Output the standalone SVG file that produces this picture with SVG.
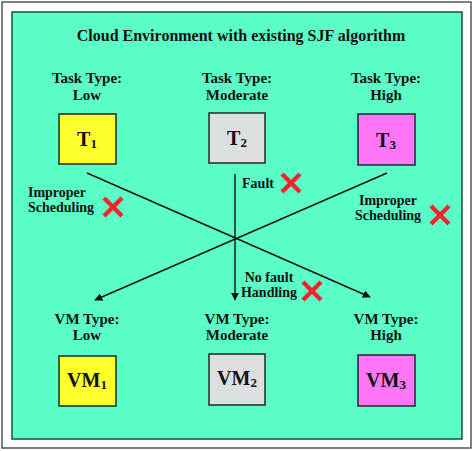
<svg xmlns="http://www.w3.org/2000/svg" width="474" height="451" viewBox="0 0 474 451">
<style>
text{font-family:"Liberation Serif","Times New Roman",serif;font-weight:bold;fill:#111;text-anchor:middle}
.lbl{font-size:14px}
.nl{font-size:15px}
.box{stroke:#1a2a2a;stroke-width:1.5}
.bt{font-size:20px}
.sub{font-size:13px}
.x{stroke:#f2242a;stroke-width:4.5;stroke-linecap:butt}
.conn{stroke:#111;stroke-width:1.4;fill:none}
</style>
<defs>
<marker id="ah" viewBox="0 0 10 10" refX="9" refY="5" markerWidth="8" markerHeight="8" markerUnits="userSpaceOnUse" orient="auto"><path d="M0,0 L10,5 L0,10 z" fill="#111"/></marker>
<g id="xm"><line class="x" x1="-9" y1="-9" x2="9" y2="9"/><line class="x" x1="9" y1="-9" x2="-9" y2="9"/></g>
</defs>
<rect x="2" y="2" width="469" height="446" fill="#fff" stroke="#555" stroke-width="1.5"/>
<rect x="12" y="12" width="450" height="427" fill="#5bfec7" stroke="#1f4a40" stroke-width="1.5"/>
<text x="241" y="41" style="font-size:16px">Cloud Environment with existing SJF algorithm</text>
<g id="t1"><text class="nl" x="87" y="83">Task Type:</text><text class="nl" x="87" y="100">Low</text><rect class="box" x="59" y="114" width="57" height="50" fill="#ffff2e"/><text class="bt" x="87" y="146">T<tspan class="sub" dy="2">1</tspan></text></g>
<g id="t2"><text class="nl" x="237" y="83">Task Type:</text><text class="nl" x="237" y="100">Moderate</text><rect class="box" x="209" y="113" width="56" height="50" fill="#dcdfdf"/><text class="bt" x="237" y="145">T<tspan class="sub" dy="2">2</tspan></text></g>
<g id="t3"><text class="nl" x="386" y="83">Task Type:</text><text class="nl" x="386" y="100">High</text><rect class="box" x="358" y="114" width="57" height="51" fill="#ff77f6"/><text class="bt" x="386" y="147">T<tspan class="sub" dy="2">3</tspan></text></g>
<g id="vm1"><text class="nl" x="87" y="324">VM Type:</text><text class="nl" x="87" y="340">Low</text><rect class="box" x="59" y="356" width="57" height="50" fill="#ffff2e"/><text class="bt" x="87" y="387">VM<tspan class="sub" dy="2">1</tspan></text></g>
<g id="vm2"><text class="nl" x="237" y="324">VM Type:</text><text class="nl" x="237" y="340">Moderate</text><rect class="box" x="209" y="354" width="56" height="51" fill="#dcdfdf"/><text class="bt" x="237" y="385">VM<tspan class="sub" dy="2">2</tspan></text></g>
<g id="vm3"><text class="nl" x="386" y="324">VM Type:</text><text class="nl" x="386" y="340">High</text><rect class="box" x="358" y="355" width="57" height="51" fill="#ff77f6"/><text class="bt" x="386" y="387">VM<tspan class="sub" dy="2">3</tspan></text></g>
<g id="connectors">
<line class="conn" x1="87" y1="173" x2="370" y2="297" marker-end="url(#ah)"/>
<line class="conn" x1="387" y1="173" x2="95" y2="300" marker-end="url(#ah)"/>
<line class="conn" x1="235" y1="174" x2="235" y2="300" marker-end="url(#ah)"/>
</g>
<g id="labels">
<text class="lbl" x="258" y="188">Fault</text>
<use href="#xm" x="291" y="183"/>
<text class="lbl" x="57" y="197">Improper</text><text class="lbl" x="61" y="212">Scheduling</text>
<use href="#xm" x="113" y="207"/>
<text class="lbl" x="388" y="205">Improper</text><text class="lbl" x="388" y="220">Scheduling</text>
<use href="#xm" x="440" y="215"/>
<text class="lbl" x="269" y="282">No fault</text><text class="lbl" x="269" y="297">Handling</text>
<use href="#xm" x="312" y="291"/>
</g>
</svg>
